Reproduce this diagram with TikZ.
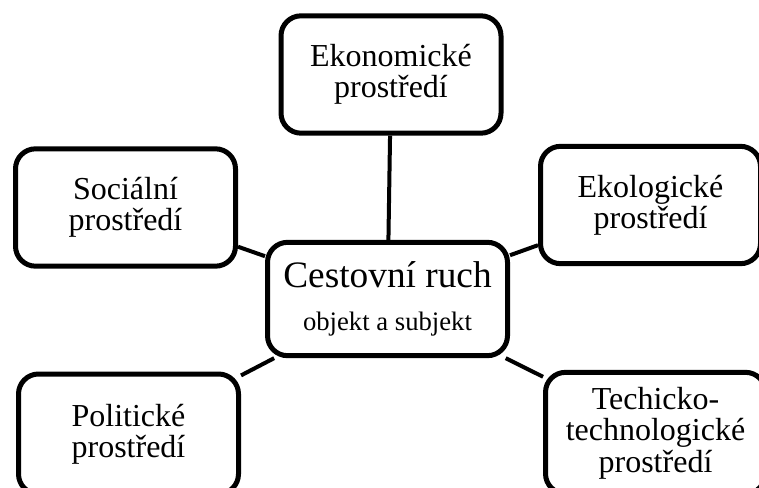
\documentclass[tikz,border=0pt]{standalone}
\usepackage{fontspec}
\setmainfont{Liberation Serif}

\begin{document}
\begin{tikzpicture}[x=0.75pt, y=-0.75pt,
    env/.style={draw, line width=3.75pt, rounded corners=15pt, align=center,
                minimum width=165pt, minimum height=88pt, inner sep=0pt,
                font=\fontsize{24}{23.5}\selectfont},
    link/.style={line width=3pt}]
  \useasboundingbox (0,0) rectangle (759,488);
  \clip (0,0) rectangle (759,488);
  \node[env, minimum width=180pt, minimum height=85pt] (ruch) at (387.5,299)
    {{\fontsize{28}{32}\selectfont Cestovní ruch}\\[9pt]{\fontsize{20}{24}\selectfont objekt a subjekt}};
  \node[env] (eko) at (391,74.5) {Ekonomické\\prostředí};
  \node[env] (soc) at (125.5,207.5) {Sociální\\prostředí};
  \node[env] (ekol) at (650.5,205) {Ekologické\\prostředí};
  \node[env, minimum height=90pt] (pol) at (128.5,434) {Politické\\prostředí};
  \node[env, minimum height=91pt] (tech) at (655.5,433) {Techicko-\\technologické\\prostředí};
  \draw[link] (ruch) -- (eko);
  \draw[link] (ruch) -- (soc);
  \draw[link] (ruch) -- (ekol);
  \draw[link] (ruch) -- (pol);
  \draw[link] (ruch) -- (tech);
\end{tikzpicture}
\end{document}
